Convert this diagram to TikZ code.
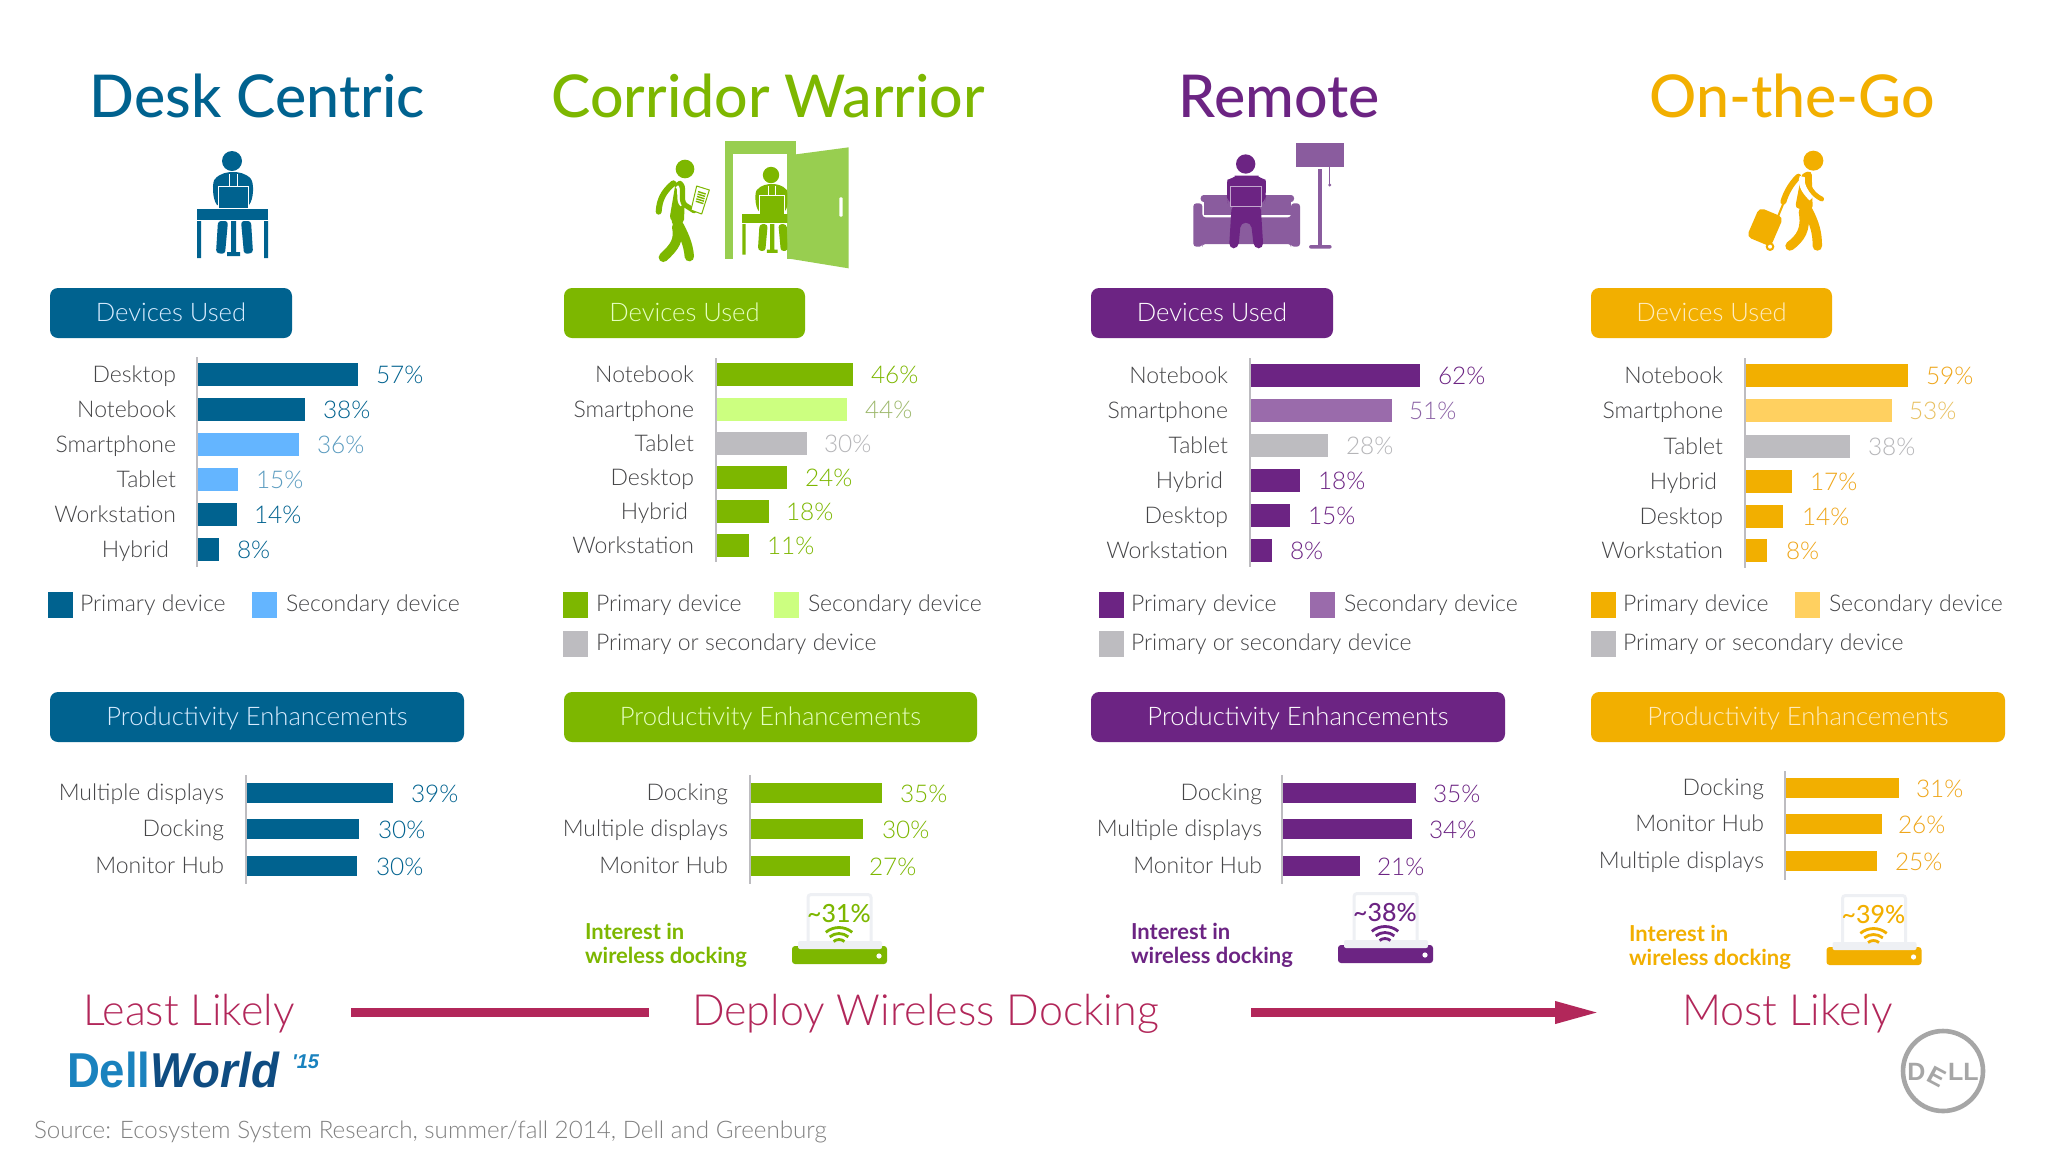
\documentclass[tikz,border=0pt]{standalone}
\usepackage{fontspec}
\setmainfont{Lato}
\newfontfamily\lite{Lato Light}
\newfontfamily\med{Lato Medium}
\newfontfamily\logofont{Liberation Sans}
\usetikzlibrary{arrows.meta}
\definecolor{cblue}{HTML}{00628F}
\definecolor{cblues}{HTML}{64B5FF}
\definecolor{cbluev}{HTML}{5B9CC0}
\definecolor{cgreen}{HTML}{7DB700}
\definecolor{cgreens}{HTML}{CCFF80}
\definecolor{cgreenv}{HTML}{9DB86C}
\definecolor{cgreenl}{HTML}{98CE50}
\definecolor{cpurp}{HTML}{6C2483}
\definecolor{cpurps}{HTML}{9A6BAB}
\definecolor{cpurpv}{HTML}{8B62A5}
\definecolor{cpurpl}{HTML}{8A5C9E}
\definecolor{corg}{HTML}{F2AF00}
\definecolor{corgs}{HTML}{FFD060}
\definecolor{corgv}{HTML}{E8C060}
\definecolor{corgt}{HTML}{EFA61A}
\definecolor{cgray}{HTML}{BDBCC0}
\definecolor{cgrayv}{HTML}{B5B5B8}
\definecolor{clab}{HTML}{454547}
\definecolor{crim}{HTML}{B2275A}
\definecolor{pale}{HTML}{EEF0F4}
\definecolor{cdellb}{HTML}{1A82BE}
\definecolor{cdelld}{HTML}{0F4C81}
\newcounter{nid}
\newcommand{\txt}[4]{\stepcounter{nid}\node[#1,name=n\arabic{nid}] at ({#2},{#3}) {#4};}
\tikzset{
 tl/.style={anchor=base west,inner sep=0,outer sep=0},
 tr/.style={anchor=base east,inner sep=0,outer sep=0},
 tc/.style={anchor=base,inner sep=0,outer sep=0},
 titlefont/.style={font=\med\fontsize{29.5}{34}\selectfont},
 lbl/.style={font=\lite\fontsize{11.5}{14}\selectfont,text=clab},
 val/.style={font=\lite\fontsize{12.2}{14}\selectfont},
 hdr/.style={font=\lite\fontsize{12.8}{15}\selectfont},
 big/.style={font=\lite\fontsize{21.5}{25}\selectfont,text=crim},
 intr/.style={font=\bfseries\fontsize{11}{13}\selectfont},
 axisline/.style={draw=cgray,line width=0.8pt},
 zm/.style 2 args={shift={(#1,#2)},x=0.166667pt,y=-0.166667pt}
}
% fill, valcol, x0, top, xend, labright, label, valleft, val
\newcommand{\brow}[9]{\fill[#1] (#3,#4) rectangle (#5,#4+23);
 \txt{tr,lbl}{#6}{#4+19}{#7}\txt{tl,val,text=#2}{#8}{#4+20}{#9}}
\newcommand{\prow}[9]{\fill[#1] (#3,#4) rectangle (#5,#4+20);
 \txt{tr,lbl}{#6}{#4+17}{#7}\txt{tl,val,text=#2}{#8}{#4+19}{#9}}
\newcommand{\lgd}[5]{\fill[#1] (#2,#3) rectangle (#2+25,#3+26);\txt{tl,lbl}{#4}{#3+19}{#5}}
\newcommand{\hdrbox}[6]{\fill[#1,rounded corners=4pt] (#2,#3) rectangle (#4,#3+50);
 \txt{tc,hdr,text=#5}{(#2+#4)/2}{#3+33}{#6}}
\newcommand{\deskperson}[4]{\begin{scope}[shift={(#1,#2)},scale=#3]
 \fill[#4] (0,0) circle (10);
 \fill[#4] (-15,44) .. controls (-20,38) and (-20,20) .. (-17,18) .. controls (-12,12) and (-4,11) .. (1,11) .. controls (6,11) and (14,12) .. (19,18) .. controls (22,22) and (22,38) .. (17,44) -- cycle;
 \draw[white,line width=.35pt] (-3,13) -- (-3,25) (5,13) -- (5,25);
 \fill[#4] (-14,25) rectangle (16,47);
 \draw[white,line width=.35pt] (-14,47) -- (-14,25) -- (16,25) -- (16,47);
 \fill[#4] (-35,48) rectangle (36,59);
 \fill[#4] (-35,60) rectangle (-31,97) (32,60) rectangle (36,97);
 \fill[#4,rounded corners=1.5pt] (-14,60) -- (-16,92) -- (-7,93) -- (-4,60) -- cycle;
 \fill[#4,rounded corners=1.5pt] (19,60) -- (21,92) -- (12,93) -- (9,60) -- cycle;
 \fill[#4] (-1,60) rectangle (4,92) (-5,91) rectangle (8,95);
\end{scope}}
% cx, ytop shift, colour, pct
\newcommand{\dock}[4]{\begin{scope}[shift={(#1-839.5,#2)}]
 \draw[pale,line width=1.5pt,rounded corners=1.5pt] (808,943) -- (808,894.5) -- (871,894.5) -- (871,943);
 \fill[#3,rounded corners=1.5pt] (792,946) rectangle (887,964);
 \fill[pale,rounded corners=1pt] (798,941) rectangle (882,949);
 \fill[white] (879,956) circle (2.6);
 \txt{tc,font=\med\fontsize{12.5}{14}\selectfont,text=#3}{839}{922}{#4}
 \foreach \r in {20.5,14.5,8.5} \draw[#3,line width=1.4pt] ([shift={(-130:\r)}]839,948) arc[start angle=-130,end angle=-50,radius=\r];
\end{scope}}
\begin{document}
\begin{tikzpicture}[x=0.5pt,y=-0.5pt]
\useasboundingbox (0,0) rectangle (2048,1152);
\fill[white] (0,0) rectangle (2048,1152);
% titles
\txt{tc,titlefont,text=cblue}{257}{117}{Desk Centric}
\txt{tc,titlefont,text=cgreen}{768}{117}{Corridor Warrior}
\txt{tc,titlefont,text=cpurp}{1279}{117}{Remote}
\txt{tc,titlefont,text=corg}{1792}{117}{On-the-Go}
% icon 1
\deskperson{232}{161}{1}{cblue}
% icon 2: walker
\begin{scope}[zm={520}{120}]
 \fill[cgreen] (495,147) circle (28);
 \fill[cgreen,rounded corners=2pt] (468,181) -- (495,190) -- (492,310) -- (448,300) -- cycle;
 \draw[cgreen,line width=3pt,line cap=round] (460,190) .. controls (430,215) and (418,240) .. (416,275);
 \draw[cgreen,line width=4.7pt,line cap=round] (468,300) .. controls (490,340) and (505,370) .. (508,410);
 \draw[cgreen,line width=4.7pt,line cap=round] (470,320) .. controls (478,360) and (465,380) .. (430,412);
 \draw[white,line width=3.6pt] (475,195) .. controls (490,205) and (475,240) .. (490,252);
 \draw[cgreen,line width=2.6pt,line cap=round] (480,190) .. controls (497,205) and (478,240) .. (495,255) -- (522,272);
 \draw[cgreen,line width=.5pt,fill=white,line join=round] (530,198) -- (568,210) -- (545,282) -- (513,270) -- cycle;
 \foreach \t in {.2,.3,.4,.5,.6} \draw[cgreen,line width=.7pt] (530-17*\t+38*.2,198+72*\t+12*.2) -- (530-17*\t+38*.8,198+72*\t+12*.8);
 % frame
 \fill[cgreenl] (614,63) rectangle (828,418);
 \fill[white] (640,102) rectangle (802,420);
\end{scope}
\deskperson{771}{175}{.82}{cgreen}
\begin{scope}[zm={520}{120}]
 \fill[cgreenl] (802,103) -- (828,103) -- (986,82) -- (986,445) -- (802,415) -- cycle;
 \fill[white,rounded corners=.5pt] (958,232) rectangle (968,290);
\end{scope}
% icon 3
\begin{scope}[zm={1150}{120}]
 \fill[cpurpl] (438,70) rectangle (581,140);
 \fill[cpurpl] (504,147) rectangle (516,378);
 \fill[cpurpl,rounded corners=1pt] (477,375) rectangle (545,386);
 \draw[cpurpl,line width=.5pt] (539,140) -- (539,195);
 \fill[cpurpl] (539,195) circle (5);
 \fill[cpurpl,rounded corners=1.5pt] (152,225) rectangle (432,246);
 \fill[cpurpl] (162,240) rectangle (422,285);
 \fill[cpurpl,rounded corners=1.5pt] (130,250) -- (157,250) -- (157,292) -- (423,292) -- (423,250) -- (450,250) -- (450,380) -- (423,380) -- (423,372) -- (157,372) -- (157,380) -- (130,380) -- cycle;
 \fill[cpurp] (287,132) circle (29);
 \fill[cpurp,rounded corners=6pt] (235,262) -- (229,215) .. controls (232,180) and (265,167) .. (290,167) .. controls (315,167) and (347,180) .. (350,215) -- (342,262) -- cycle;
 \fill[cpurp,rounded corners=2.5pt] (245,255) -- (237,385) -- (265,385) -- (272,308) -- (303,308) -- (312,385) -- (340,385) -- (332,255) -- cycle;
 \fill[cpurp] (242,198) rectangle (335,260);
 \draw[cpurps!60!white,line width=.5pt] (242,198) rectangle (335,260);
\end{scope}
% icon 4
\begin{scope}[zm={1700}{130}]
 \fill[corg] (340,92) circle (30);
 \fill[corg,rounded corners=2pt] (305,130) -- (335,122) -- (338,240) -- (285,235) -- cycle;
 \draw[corg,line width=3pt,line cap=round] (295,140) .. controls (270,165) and (258,190) .. (250,215);
 \draw[corg,line width=4.7pt,line cap=round] (320,235) .. controls (345,280) and (352,310) .. (352,348);
 \draw[corg,line width=4.7pt,line cap=round] (310,245) .. controls (320,300) and (300,325) .. (270,348);
 \draw[white,line width=3pt] (308,140) .. controls (298,165) and (320,190) .. (335,205);
 \draw[corg,line width=2.4pt,line cap=round] (322,138) .. controls (320,170) and (340,195) .. (365,207);
 \draw[corg,line width=1pt] (250,220) -- (233,262);
 \fill[corg,rounded corners=2.5pt] (178,232) -- (250,262) -- (212,350) -- (140,320) -- cycle;
 \fill[corg] (210,350) circle (13);
 \fill[white] (210,350) circle (6);
\end{scope}
% header boxes
\hdrbox{cblue}{50}{288}{292}{cblues!25!white}{Devices Used}
\hdrbox{cgreen}{564}{288}{805}{cgreens!50!white}{Devices Used}
\hdrbox{cpurp}{1091}{288}{1333}{white}{Devices Used}
\hdrbox{corg}{1591}{288}{1832}{corgs!40!white}{Devices Used}
\hdrbox{cblue}{50}{692}{464}{cblues!25!white}{Productivity Enhancements}
\hdrbox{cgreen}{564}{692}{977}{cgreens!50!white}{Productivity Enhancements}
\hdrbox{cpurp}{1091}{692}{1505}{white}{Productivity Enhancements}
\hdrbox{corg}{1591}{692}{2005}{corgs!40!white}{Productivity Enhancements}
% device col 1
\draw[axisline] (197,357) -- (197,567);
\brow{cblue}{cblue}{198}{363}{358}{176}{Desktop}{376}{57\%}
\brow{cblue}{cblue}{198}{398}{305}{176}{Notebook}{323}{38\%}
\brow{cblues}{cbluev}{198}{433}{299}{176}{Smartphone}{317}{36\%}
\brow{cblues}{cbluev}{198}{468}{238}{176}{Tablet}{256}{15\%}
\brow{cblue}{cblue}{198}{503}{237}{176}{Workstation}{254}{14\%}
\brow{cblue}{cblue}{198}{538}{219}{169}{Hybrid}{237}{8\%}
\lgd{cblue}{48}{592}{80}{Primary device}
\lgd{cblues}{252}{592}{286}{Secondary device}
% device col 2
\draw[axisline] (716,358) -- (716,562);
\brow{cgreen}{cgreen}{717}{363}{853}{694}{Notebook}{871}{46\%}
\brow{cgreens}{cgreenv}{717}{398}{847}{694}{Smartphone}{865}{44\%}
\brow{cgray}{cgrayv}{717}{432}{807}{694}{Tablet}{824}{30\%}
\brow{cgreen}{cgreen}{717}{466}{787}{694}{Desktop}{805}{24\%}
\brow{cgreen}{cgreen}{717}{500}{769}{688}{Hybrid}{786}{18\%}
\brow{cgreen}{cgreen}{717}{534}{749}{694}{Workstation}{767}{11\%}
\lgd{cgreen}{563}{592}{596}{Primary device}
\lgd{cgreens}{774}{592}{808}{Secondary device}
\lgd{cgray}{563}{631}{596}{Primary or secondary device}
% device col 3
\draw[axisline] (1250,358) -- (1250,567);
\brow{cpurp}{cpurp}{1251}{364}{1420}{1228}{Notebook}{1438}{62\%}
\brow{cpurps}{cpurpv}{1251}{399}{1392}{1228}{Smartphone}{1409}{51\%}
\brow{cgray}{cgrayv}{1251}{434}{1328}{1228}{Tablet}{1346}{28\%}
\brow{cpurp}{cpurp}{1251}{469}{1300}{1223}{Hybrid}{1318}{18\%}
\brow{cpurp}{cpurp}{1251}{504}{1290}{1228}{Desktop}{1308}{15\%}
\brow{cpurp}{cpurp}{1251}{539}{1272}{1228}{Workstation}{1290}{8\%}
\lgd{cpurp}{1099}{592}{1131}{Primary device}
\lgd{cpurps}{1310}{592}{1344}{Secondary device}
\lgd{cgray}{1099}{631}{1131}{Primary or secondary device}
% device col 4
\draw[axisline] (1745,358) -- (1745,568);
\brow{corg}{corgt}{1746}{364}{1908}{1723}{Notebook}{1926}{59\%}
\brow{corgs}{corgv}{1746}{399}{1892}{1723}{Smartphone}{1909}{53\%}
\brow{cgray}{cgrayv}{1746}{435}{1850}{1723}{Tablet}{1868}{38\%}
\brow{corg}{corgt}{1746}{470}{1792}{1717}{Hybrid}{1810}{17\%}
\brow{corg}{corgt}{1746}{505}{1783}{1723}{Desktop}{1802}{14\%}
\brow{corg}{corgt}{1746}{539}{1767}{1723}{Workstation}{1786}{8\%}
\lgd{corg}{1591}{592}{1623}{Primary device}
\lgd{corgs}{1795}{592}{1829}{Secondary device}
\lgd{cgray}{1591}{631}{1623}{Primary or secondary device}
% productivity
\draw[axisline] (246,775) -- (246,884);
\prow{cblue}{cblue}{247}{783}{393}{224}{Multiple displays}{411}{39\%}
\prow{cblue}{cblue}{247}{819}{359}{224}{Docking}{378}{30\%}
\prow{cblue}{cblue}{247}{856}{357}{224}{Monitor Hub}{376}{30\%}
\draw[axisline] (750,775) -- (750,884);
\prow{cgreen}{cgreen}{751}{783}{882}{728}{Docking}{900}{35\%}
\prow{cgreen}{cgreen}{751}{819}{863}{728}{Multiple displays}{882}{30\%}
\prow{cgreen}{cgreen}{751}{856}{850}{728}{Monitor Hub}{869}{27\%}
\draw[axisline] (1282,775) -- (1282,884);
\prow{cpurp}{cpurp}{1283}{783}{1416}{1262}{Docking}{1433}{35\%}
\prow{cpurp}{cpurp}{1283}{819}{1412}{1262}{Multiple displays}{1429}{34\%}
\prow{cpurp}{cpurp}{1283}{856}{1360}{1262}{Monitor Hub}{1377}{21\%}
\draw[axisline] (1785,771) -- (1785,880);
\prow{corg}{corgt}{1786}{778}{1899}{1764}{Docking}{1916}{31\%}
\prow{corg}{corgt}{1786}{814}{1882}{1764}{Monitor Hub}{1898}{26\%}
\prow{corg}{corgt}{1786}{851}{1877}{1764}{Multiple displays}{1895}{25\%}
% wireless docking
\txt{tl,intr,text=cgreen}{585}{939}{Interest in}
\txt{tl,intr,text=cgreen}{585}{963}{wireless docking}
\dock{839.5}{0}{cgreen}{\textasciitilde 31\%}
\txt{tl,intr,text=cpurp}{1131}{939}{Interest in}
\txt{tl,intr,text=cpurp}{1131}{963}{wireless docking}
\dock{1385.5}{-1}{cpurp}{\textasciitilde 38\%}
\txt{tl,intr,text=corg}{1629}{941}{Interest in}
\txt{tl,intr,text=corg}{1629}{965}{wireless docking}
\dock{1874}{1}{corg}{\textasciitilde 39\%}
% bottom band
\txt{tl,big}{83}{1025}{Least Likely}
\txt{tl,big}{692}{1025}{Deploy Wireless Docking}
\txt{tl,big}{1682}{1025}{Most Likely}
\coordinate (a1) at (351,1012.5);
\coordinate (a2) at (649,1012.5);
\coordinate (a3) at (1251,1012.5);
\coordinate (a4) at (1601,1012.5);
\draw[crim,line width=4.5pt] (a1) -- (a2);
\draw[crim,line width=4.5pt,-{Triangle[length=23pt,width=10pt]}] (a3) -- (a4);
% logos
\txt{tl,font=\logofont\bfseries\fontsize{24.5}{28}\selectfont}{67}{1087}{\scalebox{.93}[1]{\textcolor{cdellb}{Dell}\textcolor{cdelld}{\itshape World}}}
\txt{tl,font=\logofont\bfseries\itshape\fontsize{10}{12}\selectfont,text=cdellb}{292}{1068}{'15}
\draw[gray!70,line width=2.3pt] (1943,1071) circle (40);
\txt{tc,font=\logofont\bfseries\fontsize{12.5}{14}\selectfont,text=gray!70}{1943}{1080}{D\rotatebox{-28}{E}LL}
\txt{tl,font=\lite\fontsize{12.1}{14}\selectfont,text=gray}{34}{1138}{Source: Ecosystem System Research, summer/fall 2014, Dell and Greenburg}
\end{tikzpicture}
\end{document}
